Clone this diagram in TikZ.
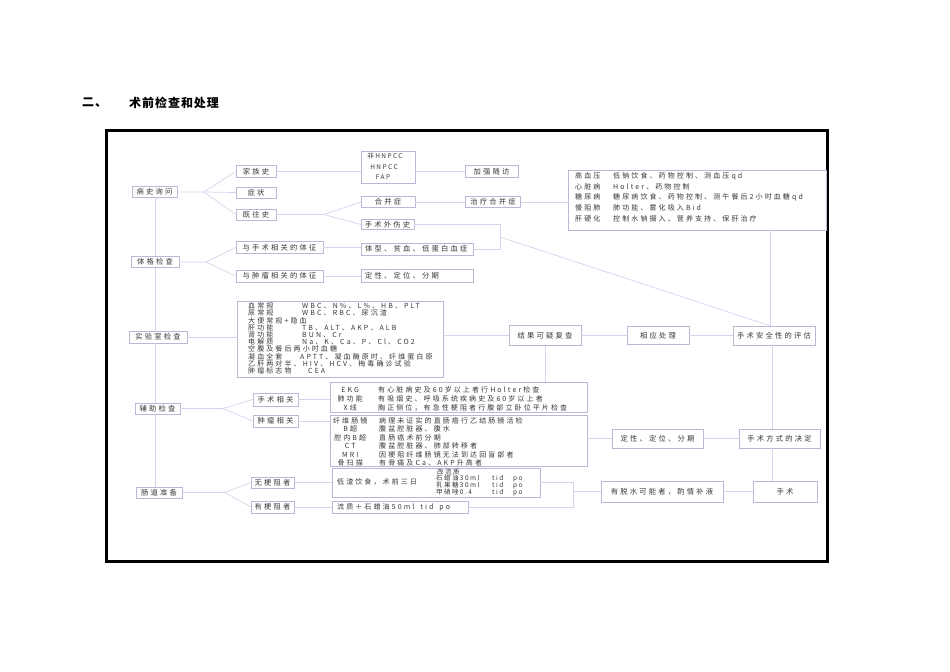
\documentclass[tikz,border=0pt]{standalone}
\usepackage{fontspec}
\newfontfamily\mycjk[LetterSpace=30]{Noto Sans CJK SC}
\newfontfamily\mycjkn[LetterSpace=22]{Noto Sans CJK SC}
\newfontfamily\mycjkt[LetterSpace=8]{Noto Sans CJK SC}
\definecolor{linec}{RGB}{212,212,238}
\definecolor{boxc}{RGB}{185,185,215}
\definecolor{txtc}{RGB}{55,55,55}
\newcommand{\myfb}{\mycjk\fontsize{7.3bp}{8bp}\selectfont}
\newcommand{\myfs}{\mycjk\fontsize{7bp}{7.2bp}\selectfont}
\newcommand{\myfx}{\mycjkn\fontsize{6.5bp}{7bp}\selectfont}
\newcommand{\myft}{\mycjkt\fontsize{12bp}{14bp}\selectfont\bfseries}
\begin{document}
\begin{tikzpicture}[x=1bp,y=-1bp,
  bx/.style={draw=boxc, fill=white, line width=0.6bp, inner sep=0pt, text=txtc, font=\myfb},
  ln/.style={draw=linec, line width=0.7bp},
  tl/.style={inner sep=0pt, anchor=west, text=txtc, font=\myfs},
  tc/.style={inner sep=0pt, text=txtc, font=\myfs}]
\useasboundingbox (0,0) rectangle (950,672);
\fill[white] (0,0) rectangle (950,672);
% title
\node[inner sep=0pt, anchor=west, font=\myft] (t1) at (82,103) {二、};
\node[inner sep=0pt, anchor=west, font=\myft] (t2) at (129,103) {术前检查和处理};
% frame
\draw[line width=3bp] (106.5,131) rectangle (827,561.5);
% row 1
\node[bx, minimum width=45bp, minimum height=11bp] (bsxw) at (154.5,192) {病史询问};
\node[bx, minimum width=40bp, minimum height=12bp] (jzs) at (256,171.5) {家族史};
\node[bx, minimum width=40bp, minimum height=11bp] (zz) at (256,192.5) {症状};
\node[bx, minimum width=40bp, minimum height=11bp] (jws) at (256,214.5) {既往史};
\node[bx, minimum width=54bp, minimum height=32bp] (hnpcc) at (388,167) {};
\node[tc, font=\myfx] (h1) at (385,156.5) {非HNPCC};
\node[tc, font=\myfx] (h2) at (384,167) {HNPCC};
\node[tc, font=\myfx] (h3) at (383,177.5) {FAP};
\node[bx, minimum width=53bp, minimum height=11bp] (jqsf) at (491.5,171.3) {加强随访};
\node[bx, minimum width=54bp, minimum height=11bp] (hbz) at (388,202) {合并症};
\node[bx, minimum width=55bp, minimum height=11bp] (zlhbz) at (493,202) {治疗合并症};
\node[bx, minimum width=53bp, minimum height=10bp] (sswss) at (387.5,224.5) {手术外伤史};
\node[bx, minimum width=258bp, minimum height=60bp] (rb) at (697,200) {};
\node[tl] (r1) at (575,176.7) {\makebox[38bp][l]{高血压}低钠饮食、药物控制、测血压qd};
\node[tl] (r2) at (575,187.3) {\makebox[38bp][l]{心脏病}Holter、药物控制};
\node[tl] (r3) at (575,197.7) {\makebox[38bp][l]{糖尿病}糖尿病饮食、药物控制、测午餐后2小时血糖qd};
\node[tl] (r4) at (575,208.3) {\makebox[38bp][l]{慢阻肺}肺功能、雾化吸入Bid};
\node[tl] (r5) at (575,218.7) {\makebox[38bp][l]{肝硬化}控制水钠摄入、营养支持、保肝治疗};
% row 2
\node[bx, minimum width=48bp, minimum height=11bp] (tgjc) at (155,262) {体格检查};
\node[bx, minimum width=87bp, minimum height=12bp] (yssxg) at (279.5,247.5) {与手术相关的体征};
\node[bx, minimum width=87bp, minimum height=12bp] (yzlxg) at (279.5,276) {与肿瘤相关的体征};
\node[bx, minimum width=112bp, minimum height=12bp] (txb) at (417,249) {};
\node[tl, font=\myfb] (txt) at (365,249) {体型、贫血、低蛋白血症};
\node[bx, minimum width=112bp, minimum height=13bp] (dx1) at (417,276) {};
\node[tl, font=\myfb] (dx1t) at (365,276) {定性、定位、分期};
% lab
\node[bx, minimum width=58bp, minimum height=12bp] (sysjc) at (158,337) {实验室检查};
\node[bx, minimum width=206bp, minimum height=76bp] (lab) at (340,339) {};
\node[tl] (l1) at (248,306) {\makebox[54bp][l]{血常规}WBC、N\%、L\%、HB、PLT};
\node[tl] (l2) at (248,313.2) {\makebox[54bp][l]{尿常规}WBC、RBC、尿沉渣};
\node[tl] (l3) at (248,320.4) {大便常规+隐血};
\node[tl] (l4) at (248,327.6) {\makebox[54bp][l]{肝功能}TB、ALT、AKP、ALB};
\node[tl] (l5) at (248,334.8) {\makebox[54bp][l]{肾功能}BUN、Cr};
\node[tl] (l6) at (248,342) {\makebox[54bp][l]{电解质}Na、K、Ca、P、Cl、CO2};
\node[tl] (l7) at (248,349.2) {空腹及餐后两小时血糖};
\node[tl] (l8) at (248,356.4) {\makebox[52bp][l]{凝血全套}APTT、凝血酶原时、纤维蛋白原};
\node[tl] (l9) at (248,363.6) {乙肝两对半、HIV、HCV、梅毒确诊试验};
\node[tl] (l10) at (248,370.8) {\makebox[60bp][l]{肿瘤标志物}CEA};
\node[bx, minimum width=72bp, minimum height=20bp] (jgky) at (545,335.5) {结果可疑复查};
\node[bx, minimum width=62bp, minimum height=18bp] (xycl) at (658,335.5) {相应处理};
\node[bx, minimum width=82bp, minimum height=19bp] (sspg) at (774,335.5) {手术安全性的评估};
% auxiliary
\node[bx, minimum width=45bp, minimum height=11bp] (fzjc) at (157.5,408.5) {辅助检查};
\node[bx, minimum width=45bp, minimum height=13bp] (ssxg) at (275.5,399.5) {手术相关};
\node[bx, minimum width=45bp, minimum height=12bp] (zlxg) at (275.5,421) {肿瘤相关};
\node[bx, minimum width=257bp, minimum height=30bp] (ekg) at (458.5,397) {};
\node[tl] (e1) at (334,390) {\makebox[32bp][c]{EKG}\hspace{12bp}有心脏病史及60岁以上者行Holter检查};
\node[tl] (e2) at (334,399) {\makebox[32bp][c]{肺功能}\hspace{12bp}有吸烟史、呼吸系统疾病史及60岁以上者};
\node[tl] (e3) at (334,408) {\makebox[32bp][c]{X线}\hspace{12bp}胸正侧位，有急性梗阻者行腹部立卧位平片检查};
\node[bx, minimum width=257bp, minimum height=51bp] (xw) at (458.5,440.5) {};
\node[tl] (x1) at (332,420.5) {\makebox[36bp][c]{纤维肠镜}\hspace{11bp}病理未证实的直肠癌行乙结肠镜活检};
\node[tl] (x2) at (332,429) {\makebox[36bp][c]{B超}\hspace{11bp}腹盆腔脏器、腹水};
\node[tl] (x3) at (332,437.5) {\makebox[36bp][c]{腔内B超}\hspace{11bp}直肠癌术前分期};
\node[tl] (x4) at (332,446) {\makebox[36bp][c]{CT}\hspace{11bp}腹盆腔脏器、肺部转移者};
\node[tl] (x5) at (332,454.5) {\makebox[36bp][c]{MRI}\hspace{11bp}因梗阻纤维肠镜无法到达回盲部者};
\node[tl] (x6) at (332,463) {\makebox[36bp][c]{骨扫描}\hspace{11bp}有骨痛及Ca、AKP升高者};
\node[bx, minimum width=91bp, minimum height=19bp] (dx2) at (657.5,438.5) {定性、定位、分期};
\node[bx, minimum width=81bp, minimum height=19bp] (ssfs) at (779.5,438.5) {手术方式的决定};
% bowel preparation
\node[bx, minimum width=46bp, minimum height=11bp] (cdzb) at (159,492.5) {肠道准备};
\node[bx, minimum width=43bp, minimum height=11bp] (wgz) at (272.5,482.5) {无梗阻者};
\node[bx, minimum width=43bp, minimum height=12bp] (ygz) at (272.5,507) {有梗阻者};
\node[bx, minimum width=208bp, minimum height=29bp] (dz) at (436,482.5) {};
\node[tl] (dzt) at (337,482) {低渣饮食，术前三日};
\node[tl, font=\myfx] (d1) at (437,471.7) {改流质};
\node[tl, font=\myfx] (d2) at (436,478.9) {\makebox[56bp][l]{石蜡油30ml}\makebox[21bp][l]{tid}po};
\node[tl, font=\myfx] (d3) at (436,485.9) {\makebox[56bp][l]{乳果糖30ml}\makebox[21bp][l]{tid}po};
\node[tl, font=\myfx] (d4) at (436,492.9) {\makebox[56bp][l]{甲硝唑0.4}\makebox[21bp][l]{tid}po};
\node[bx, minimum width=136bp, minimum height=12bp] (lz) at (400,507) {};
\node[tl] (lzt) at (337,507) {流质＋石蜡油50ml\hspace{6bp}tid\hspace{6bp}po};
\node[bx, minimum width=122bp, minimum height=21bp] (ymzz) at (662,491.5) {有脱水可能者，酌情补液};
\node[bx, minimum width=64bp, minimum height=21bp] (ss) at (785,491.5) {手术};
% trunk
\coordinate (tr) at (155,0);
\draw[ln] (tr |- bsxw.south) -- (tr |- tgjc.north);
\draw[ln] (tr |- tgjc.south) -- (tr |- sysjc.north);
\draw[ln] (tr |- sysjc.south) -- (tr |- fzjc.north);
\draw[ln] (tr |- fzjc.south) -- (tr |- cdzb.north);
% fans
\coordinate (f1) at (204,192);
\draw[ln] (bsxw.east) -- (f1) -- (jzs.west);
\draw[ln] (f1) -- (zz.west);
\draw[ln] (f1) -- (jws.west);
\coordinate (f2) at (206,262);
\draw[ln] (tgjc.east) -- (f2) -- (yssxg.west);
\draw[ln] (f2) -- (yzlxg.west);
\coordinate (f3) at (324,214.5);
\draw[ln] (jws.east) -- (f3) -- (hbz.west);
\draw[ln] (f3) -- (sswss.west);
\coordinate (f4) at (223,408.5);
\draw[ln] (fzjc.east) -- (f4) -- (ssxg.west);
\draw[ln] (f4) -- (zlxg.west);
\coordinate (f5) at (225,492.5);
\draw[ln] (cdzb.east) -- (f5) -- (wgz.west);
\draw[ln] (f5) -- (ygz.west);
% straight connectors
\draw[ln] (jzs.east) -- (jzs.east -| hnpcc.west);
\draw[ln] (jqsf.west -| hnpcc.east) -- (jqsf.west);
\draw[ln] (hbz.east) -- (zlhbz.west);
\draw[ln] (zlhbz.east) -- (zlhbz.east -| rb.west);
\draw[ln] (yssxg.east) -- (yssxg.east -| txb.west);
\draw[ln] (yzlxg.east) -- (yzlxg.east -| dx1.west);
\draw[ln] (sysjc.east) -- (sysjc.east -| lab.west);
\draw[ln] (jgky.west -| lab.east) -- (jgky.west);
\draw[ln] (jgky.east) -- (xycl.west);
\draw[ln] (xycl.east) -- (sspg.west);
\draw[ln] (jgky.south) -- (jgky.south |- ekg.north);
\draw[ln] (ssxg.east) -- (ssxg.east -| ekg.west);
\draw[ln] (zlxg.east) -- (zlxg.east -| xw.west);
\draw[ln] (dx2.west -| xw.east) -- (dx2.west);
\draw[ln] (dx2.east) -- (ssfs.west);
\draw[ln] (wgz.east) -- (wgz.east -| dz.west);
\draw[ln] (ygz.east) -- (ygz.east -| lz.west);
\draw[ln] (ymzz.east) -- (ss.west);
% brackets
\coordinate (b1) at (500,237);
\draw[ln] (sswss.east) -- (sswss.east -| b1) -- (txb.east -| b1) -- (txb.east);
\coordinate (p1) at (770,0);
\draw[ln] (b1) -- (p1 |- sspg.north);
\draw[ln] (p1 |- rb.south) -- (p1 |- sspg.north);
\coordinate (p2) at (772,0);
\draw[ln] (p2 |- sspg.south) -- (p2 |- ssfs.north);
\draw[ln] (p2 |- ssfs.south) -- (p2 |- ss.north);
\coordinate (b2) at (573,491.5);
\draw[ln] (dz.east) -- (dz.east -| b2) -- (lz.east -| b2) -- (lz.east);
\draw[ln] (b2) -- (ymzz.west);
\end{tikzpicture}
\end{document}
